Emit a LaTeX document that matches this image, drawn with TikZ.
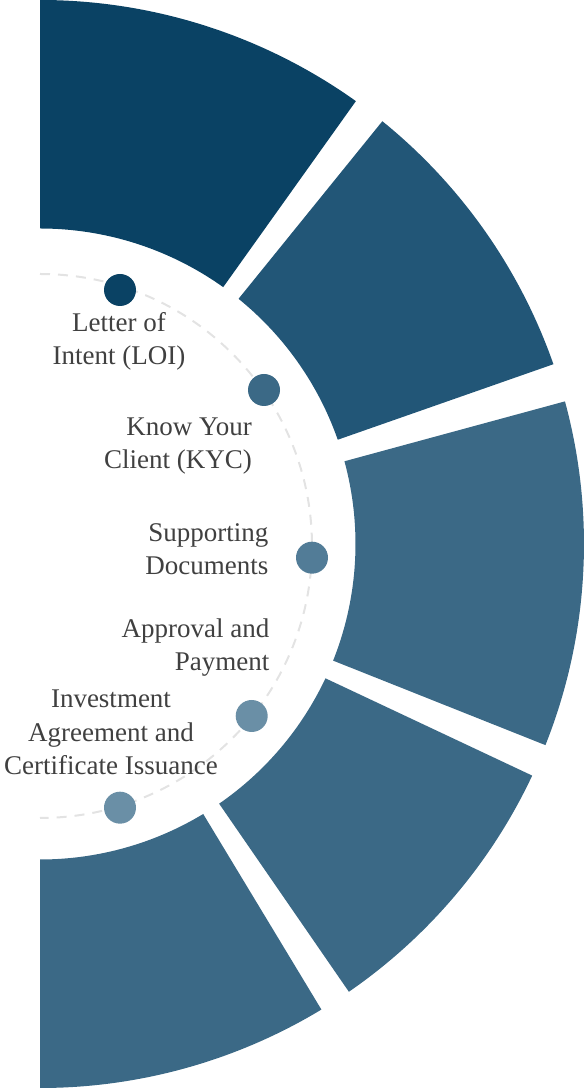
\documentclass[tikz,border=0pt]{standalone}
\usepackage{fontspec}
\setmainfont{Liberation Serif}
\definecolor{c1}{HTML}{0A4264}
\definecolor{c2}{HTML}{225677}
\definecolor{c3}{HTML}{3B6986}
\definecolor{d3}{HTML}{527C97}
\definecolor{d4}{HTML}{6A8FA6}
\definecolor{txt}{HTML}{404040}
\definecolor{dashc}{HTML}{E3E3E3}
\begin{document}
\begin{tikzpicture}[x=1pt,y=1pt,
  dot/.style={circle,minimum size=32pt,inner sep=0pt,draw=none},
  lbl/.style={font=\fontsize{27}{33.5}\selectfont, text=txt, inner sep=0pt},
  dashline/.style={draw=dashc, line width=2pt, dash pattern=on 10pt off 8pt},
]
\useasboundingbox (0,0) rectangle (584,1088);
\coordinate (C) at (40,544);
\coordinate (Cd) at (40,542);
\newcommand\ringseg[3]{\fill[#3] ([shift={(#1:544)}]C) arc[start angle=#1,end angle=#2,radius=544] -- ([shift={(#2:315.5)}]C) arc[start angle=#2,end angle=#1,radius=315.5] -- cycle;}
\ringseg{54.5}{90}{c1}
\ringseg{19.3}{51.0}{c2}
\ringseg{-21.7}{15.2}{c3}
\ringseg{-55.4}{-25.2}{c3}
\ringseg{-90}{-58.85}{c3}
\draw[dashline] ([shift={(90:272)}]Cd) arc[start angle=90,end angle=-90,radius=272];
\node[dot,fill=c1] (d1) at (120,798) {};
\node[dot,fill=c3] (d2) at (264,698) {};
\node[dot,fill=d3] (d3) at (312,530.3) {};
\node[dot,fill=d4] (d4) at (251.7,372) {};
\node[dot,fill=d4] (d5) at (120,280.3) {};
\node[lbl,align=center,anchor=base] (t1) at (119,723) {Letter of\\Intent (LOI)};
\node[lbl,align=right,anchor=base east] (t2) at (252,619) {Know Your\\Client (KYC)};
\node[lbl,align=right,anchor=base east] (t3) at (268.5,513) {Supporting\\Documents};
\node[lbl,align=right,anchor=base east] (t4) at (269.5,417.3) {Approval and\\Payment};
\node[lbl,align=center,anchor=base] (t5) at (111,313) {Investment\\Agreement and\\Certificate Issuance};
\end{tikzpicture}
\end{document}
